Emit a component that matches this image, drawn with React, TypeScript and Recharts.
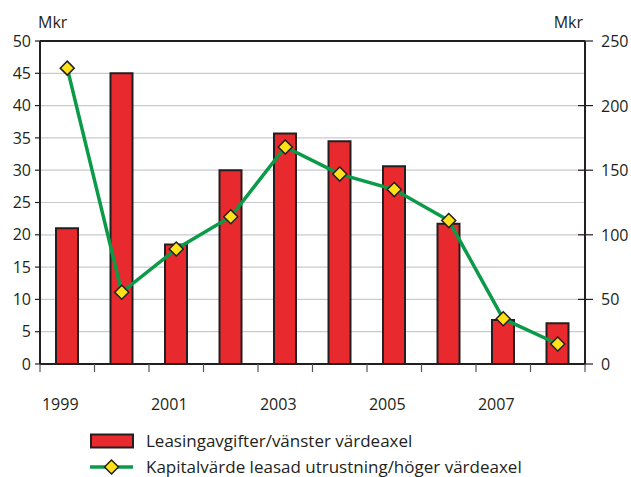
import React from "react";
import {
  ComposedChart,
  Bar,
  Line,
  XAxis,
  YAxis,
  CartesianGrid,
  ReferenceLine,
} from "recharts";

const YEARS = ["1999", "2000", "2001", "2002", "2003", "2004", "2005", "2006", "2007", "2008"];
const LEASING_FEES = [21, 45, 18.5, 30, 35.7, 34.5, 30.6, 21.7, 6.8, 6.3];
const CAPITAL_VALUE = [229, 55.5, 89, 114, 168, 147, 135, 111, 35, 15.5];
const LEFT_TICKS = [0, 5, 10, 15, 20, 25, 30, 35, 40, 45, 50];
const RIGHT_TICKS = [0, 50, 100, 150, 200, 250];

const FONT = "'Open Sans', 'Noto Sans', sans-serif";
const INK = "#231f20";
const RED = "#e8292d";
const GREEN = "#0a9a48";
const YELLOW = "#ffe11a";

const data = YEARS.map((year, i) => ({
  year,
  fees: LEASING_FEES[i],
  capital: CAPITAL_VALUE[i],
}));

function Diamond({ cx, cy }: any) {
  if (cx == null || cy == null) return null;
  const r = 7;
  return (
    <path
      d={`M${cx},${cy - r} L${cx + r},${cy} L${cx},${cy + r} L${cx - r},${cy} Z`}
      fill={YELLOW}
      stroke={INK}
      strokeWidth={1.5}
    />
  );
}

// tick marks sit on the category boundaries, labels only every other year
function YearTick({ x, y, payload, index }: any) {
  const half = payload?.offset ?? 27.25;
  const left = x - half;
  return (
    <g>
      <line x1={left} y1={y} x2={left} y2={y + 8} stroke="#555" strokeWidth={1.2} />
      {index === YEARS.length - 1 && (
        <line x1={x + half} y1={y} x2={x + half} y2={y + 8} stroke="#555" strokeWidth={1.2} />
      )}
      {index % 2 === 0 && (
        <text x={x - 7} y={y + 46} textAnchor="middle" fontFamily={FONT} fontSize={16} fill={INK}>
          {payload.value}
        </text>
      )}
    </g>
  );
}

function RightTick({ x, y, payload }: any) {
  return (
    <g>
      <line x1={x - 7} y1={y} x2={x + 8} y2={y} stroke={INK} strokeWidth={1.2} />
      <text x={x + 16} y={y} dy={6} textAnchor="start" fontFamily={FONT} fontSize={16} fill={INK}>
        {payload.value}
      </text>
    </g>
  );
}

function UnitLabel({ viewBox, side }: any) {
  const x = side === "left" ? viewBox.x + viewBox.width - 2 : viewBox.x - 2;
  return (
    <text
      x={x}
      y={viewBox.y - 13}
      textAnchor={side === "left" ? "start" : "end"}
      fontFamily={FONT}
      fontSize={16}
      fill={INK}
    >
      Mkr
    </text>
  );
}

export default function App() {
  return (
    <div style={{ position: "absolute", left: 0, top: 0, width: 631, height: 477, background: "#fff", overflow: "hidden" }}>
      <ComposedChart
        width={631}
        height={477}
        data={data}
        margin={{ top: 41, right: 0, bottom: 0, left: 0 }}
        barGap={0}
      >
        <CartesianGrid yAxisId="left" vertical={false} stroke="#c9c9d2" strokeWidth={1.2} />
        <XAxis
          dataKey="year"
          height={113}
          interval={0}
          tickSize={0}
          tickMargin={0}
          tick={<YearTick />}
          axisLine={{ stroke: INK, strokeWidth: 2 }}
          tickLine={false}
        />
        <YAxis
          yAxisId="left"
          width={40}
          domain={[0, 50]}
          ticks={LEFT_TICKS}
          interval={0}
          tickSize={5}
          tickMargin={4}
          axisLine={{ stroke: INK, strokeWidth: 2 }}
          tickLine={{ stroke: INK, strokeWidth: 1.2 }}
          tick={{ fontFamily: FONT, fontSize: 16, fill: INK }}
          label={{ content: (p: any) => <UnitLabel {...p} side="left" /> }}
        />
        <YAxis
          yAxisId="right"
          orientation="right"
          width={46}
          domain={[0, 250]}
          ticks={RIGHT_TICKS}
          interval={0}
          tickSize={0}
          tickMargin={0}
          axisLine={{ stroke: INK, strokeWidth: 2 }}
          tickLine={false}
          tick={<RightTick />}
          label={{ content: (p: any) => <UnitLabel {...p} side="right" /> }}
        />
        <ReferenceLine yAxisId="left" y={50} stroke={INK} strokeWidth={2} />
        <Bar
          yAxisId="left"
          dataKey="fees"
          name="Leasingavgifter/vänster värdeaxel"
          fill={RED}
          stroke={INK}
          strokeWidth={2}
          barSize={22}
          isAnimationActive={false}
        />
        <Line
          yAxisId="right"
          dataKey="capital"
          name="Kapitalvärde leasad utrustning/höger värdeaxel"
          stroke={GREEN}
          strokeWidth={3.5}
          dot={<Diamond />}
          activeDot={false}
          isAnimationActive={false}
        />
      </ComposedChart>
      {/* legend */}
      <div style={{ position: "absolute", left: 90, top: 428, fontFamily: FONT, fontSize: 17, color: INK, lineHeight: "26px" }}>
        <div style={{ display: "flex", alignItems: "center", height: 26 }}>
          <svg width={56} height={26}>
            <rect x={1} y={6.5} width={42} height={13} fill={RED} stroke={INK} strokeWidth={2} />
          </svg>
          <span>Leasingavgifter/vänster värdeaxel</span>
        </div>
        <div style={{ display: "flex", alignItems: "center", height: 26 }}>
          <svg width={56} height={26}>
            <line x1={0} y1={13} x2={43} y2={13} stroke={GREEN} strokeWidth={3.5} />
            <path d="M21.5,6 L28.5,13 L21.5,20 L14.5,13 Z" fill={YELLOW} stroke={INK} strokeWidth={1.5} />
          </svg>
          <span>Kapitalvärde leasad utrustning/höger värdeaxel</span>
        </div>
      </div>
    </div>
  );
}
